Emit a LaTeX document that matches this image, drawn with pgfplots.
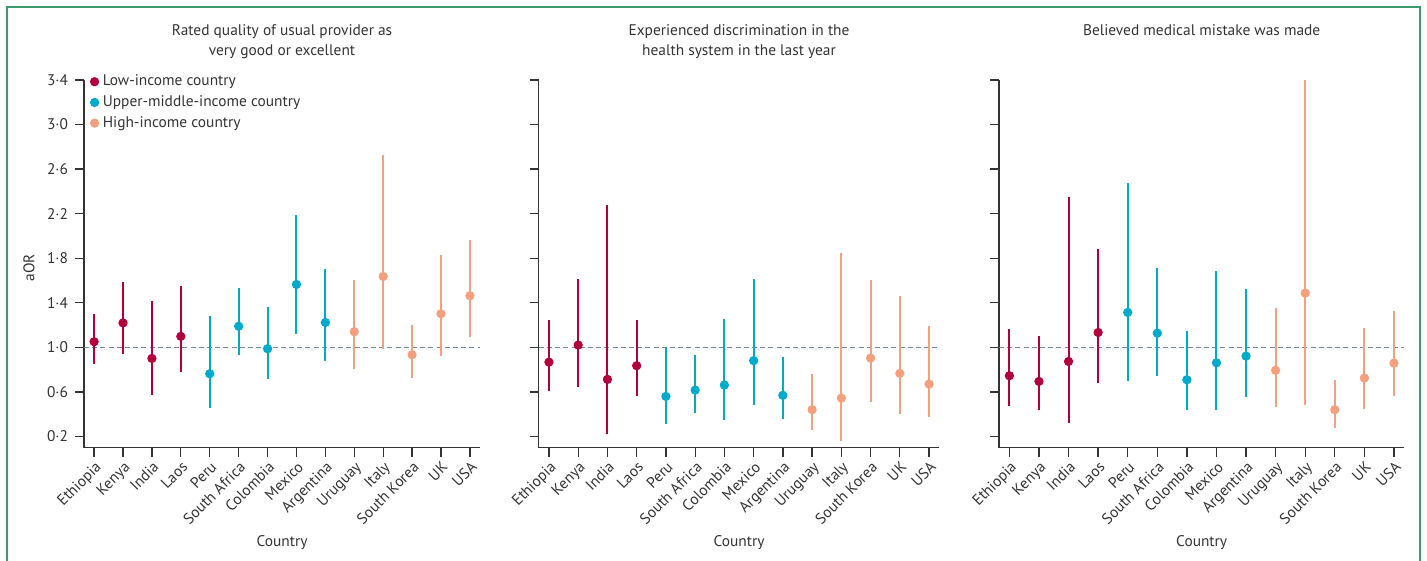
\documentclass[border=0pt]{standalone}
\usepackage{fontspec}
\setmainfont{PT Sans}
\usepackage{pgfplots}
\usepackage{pgfplotstable}
\pgfplotsset{compat=1.18}
\definecolor{lowc}{HTML}{B4003A}
\definecolor{midc}{HTML}{00AACB}
\definecolor{highc}{HTML}{F4A07E}
\definecolor{axisgray}{HTML}{333333}
\definecolor{dashcol}{HTML}{6F8A99}
\definecolor{framec}{HTML}{3C9A6E}
\newcommand\fs{\fontsize{7.7}{10}\selectfont}

\pgfplotstableread{
x y lo hi
0 1.051 0.847 1.302
1 1.220 0.937 1.589
2 0.901 0.572 1.420
3 1.099 0.776 1.550
4 0.764 0.456 1.278
5 1.190 0.928 1.530
6 0.988 0.719 1.359
7 1.565 1.120 2.184
8 1.224 0.880 1.700
9 1.141 0.810 1.604
10 1.637 0.982 2.731
11 0.934 0.728 1.197
12 1.302 0.922 1.825
13 1.464 1.093 1.962
}\tabA
\pgfplotstableread{
x y lo hi
0 0.868 0.605 1.242
1 1.021 0.647 1.613
2 0.713 0.226 2.274
3 0.836 0.560 1.242
4 0.560 0.316 1.000
5 0.617 0.411 0.928
6 0.662 0.348 1.251
7 0.881 0.483 1.613
8 0.570 0.354 0.910
9 0.441 0.256 0.758
10 0.545 0.160 1.849
11 0.904 0.507 1.604
12 0.767 0.405 1.460
13 0.671 0.375 1.188
}\tabB
\pgfplotstableread{
x y lo hi
0 0.746 0.477 1.161
1 0.695 0.438 1.099
2 0.874 0.324 2.348
3 1.134 0.680 1.885
4 1.314 0.698 2.477
5 1.128 0.740 1.715
6 0.710 0.441 1.143
7 0.862 0.441 1.690
8 0.922 0.554 1.523
9 0.794 0.465 1.350
10 1.487 0.483 3.397
11 0.441 0.276 0.704
12 0.725 0.447 1.170
13 0.859 0.560 1.323
}\tabC

\pgfplotsset{
  panel/.style={
    scale only axis, anchor=south west, height=183.85pt,
    xmin=-0.35, xmax=13.35, ymin=0.1, ymax=3.4,
    axis x line*=bottom, axis y line*=left,
    axis line style={-, line width=0.65pt, draw=axisgray},
    xtick={0,...,13},
    xticklabels={Ethiopia,Kenya,India,Laos,Peru,South Africa,Colombia,Mexico,Argentina,Uruguay,Italy,South Korea,UK,USA},
    x tick label style={rotate=45, anchor=north east, inner sep=1.2pt},
    ytick={0.2,0.6,1.0,1.4,1.8,2.2,2.6,3.0,3.4},
    tick style={line width=0.65pt, draw=axisgray},
    tick align=outside, major tick length=4.5pt,
    tick label style={font=\fs, text=axisgray},
    xlabel={Country},
    xlabel style={at={(axis description cs:0.5,-0.259)}, anchor=center, font=\fs, text=axisgray},
    title style={at={(axis description cs:0.5,1.072)}, anchor=center, align=center, font=\fs, text=axisgray},
    clip=false,
  },
  grp/.style={only marks, mark=*, mark size=2.1pt, color=#1, mark options={draw=#1, fill=#1},
    error bars/y dir=both, error bars/y explicit, error bars/error mark=none,
    error bars/error bar style={line width=1pt, color=#1}},
}
\newcommand\panelplots[1]{%
  \addplot[dashcol, line width=0.75pt, dash pattern=on 2.5pt off 1.6pt, forget plot] coordinates {(-0.35,1) (13.35,1)};
  \addplot[restrict x to domain=0:3, grp=lowc] table[x=x, y=y, y error plus expr=\thisrow{hi}-\thisrow{y}, y error minus expr=\thisrow{y}-\thisrow{lo}] {#1};
  \addplot[restrict x to domain=4:8, grp=midc] table[x=x, y=y, y error plus expr=\thisrow{hi}-\thisrow{y}, y error minus expr=\thisrow{y}-\thisrow{lo}] {#1};
  \addplot[restrict x to domain=9:13, grp=highc] table[x=x, y=y, y error plus expr=\thisrow{hi}-\thisrow{y}, y error minus expr=\thisrow{y}-\thisrow{lo}] {#1};
}

\begin{document}
\begin{tikzpicture}
\useasboundingbox (0,0) rectangle (713.5pt,280.5pt);
\draw[framec, line width=0.8pt] (3.5pt,0) -- (3.5pt,277pt) -- (710pt,277pt) -- (710pt,0);

\begin{axis}[panel, at={(42pt,56.65pt)}, width=198pt,
  yticklabels={0·2,0·6,1·0,1·4,1·8,2·2,2·6,3·0,3·4},
  ylabel={aOR}, ylabel style={at={(axis description cs:-0.139,0.49)}, anchor=center, font=\fs, text=axisgray},
  title={Rated quality of usual provider as\\very good or excellent},
  legend style={at={(axis description cs:0.0,1.037)}, anchor=north west, draw=none, fill=none, font=\fs, text=axisgray, row sep=-0.6pt},
  legend cell align=left]
\panelplots{\tabA}
\addlegendentry{Low-income country}
\addlegendentry{Upper-middle-income country}
\addlegendentry{High-income country}
\end{axis}

\begin{axis}[panel, at={(269.35pt,56.65pt)}, width=200.3pt,
  yticklabels={},
  title={Experienced discrimination in the\\health system in the last year}]
\panelplots{\tabB}
\end{axis}

\begin{axis}[panel, at={(499.5pt,56.65pt)}, width=202.65pt,
  yticklabels={},
  title style={at={(axis description cs:0.5,1.104)}},
  title={Believed medical mistake was made}]
\panelplots{\tabC}
\end{axis}
\end{tikzpicture}
\end{document}
